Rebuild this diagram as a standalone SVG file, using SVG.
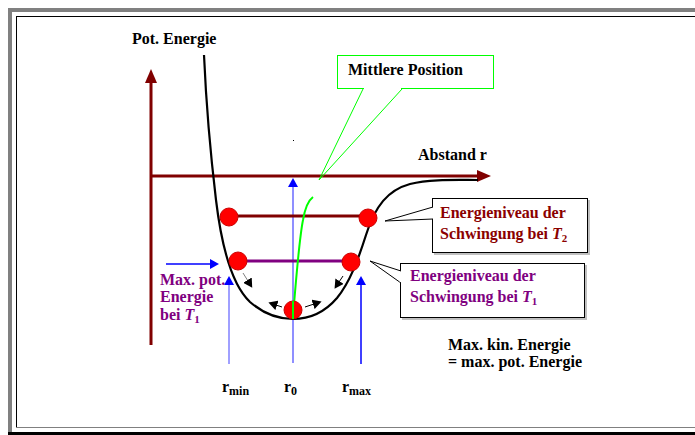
<svg xmlns="http://www.w3.org/2000/svg" width="695" height="435" viewBox="0 0 695 435">
<style>
text{font-family:'Liberation Serif','Times New Roman',serif;font-weight:bold;font-size:16px}
.blk{fill:#000}
.dr{fill:#8b0000}
.pu{fill:#800080}
.ball{fill:#ff0000;stroke:#cc0000;stroke-width:1}
.box{fill:#fff;stroke:#000;stroke-width:1}
.shadow{fill:#c0c0c0}
</style>
<defs>
<marker id="arrDR" markerWidth="14" markerHeight="12" refX="1" refY="6" orient="auto" markerUnits="userSpaceOnUse"><path d="M0,0 L14,6 L0,12 z" fill="#800000"/></marker>
<marker id="arrB" markerWidth="10" markerHeight="10" refX="1" refY="5" orient="auto" markerUnits="userSpaceOnUse"><path d="M0,0 L9,5 L0,10 z" fill="#0000ff"/></marker>
<marker id="arrK" markerWidth="10" markerHeight="10" refX="1" refY="5" orient="auto" markerUnits="userSpaceOnUse"><path d="M0,0 L9,5 L0,10 z" fill="#000"/></marker>
</defs>
<rect width="695" height="435" fill="#fff"/>
<g id="frame">
<rect x="8" y="8" width="687" height="4" fill="#808080"/>
<rect x="8" y="8" width="4" height="426" fill="#808080"/>
<line x1="16" y1="16.5" x2="695" y2="16.5" stroke="#000" stroke-width="1"/>
<line x1="16.5" y1="16" x2="16.5" y2="427" stroke="#000" stroke-width="1"/>
<line x1="16" y1="427.5" x2="695" y2="427.5" stroke="#808080" stroke-width="1"/>
<rect x="8" y="432" width="687" height="3" fill="#000"/>
</g>
<g id="connectors">
<line x1="151" y1="345" x2="151" y2="82" stroke="#800000" stroke-width="3" marker-end="url(#arrDR)"/>
<line x1="151" y1="176" x2="478" y2="176" stroke="#800000" stroke-width="3" marker-end="url(#arrDR)"/>
<line x1="293" y1="363" x2="293" y2="186" stroke="#6a6aff" stroke-width="1.5" marker-end="url(#arrB)"/>
<line x1="229" y1="364" x2="229" y2="284" stroke="#8080ff" stroke-width="1.5" marker-end="url(#arrB)"/>
<line x1="361" y1="364" x2="361" y2="284" stroke="#0000ff" stroke-width="1.5" marker-end="url(#arrB)"/>
<line x1="166" y1="264" x2="211" y2="264" stroke="#0000ff" stroke-width="1.5" marker-end="url(#arrB)"/>
<line x1="243" y1="273" x2="248" y2="281" stroke="#808080" stroke-width="1" marker-end="url(#arrK)"/>
<line x1="343" y1="276" x2="339" y2="282" stroke="#000" stroke-width="1" marker-end="url(#arrK)"/>
<line x1="282" y1="307" x2="276" y2="305" stroke="#000" stroke-width="1" marker-end="url(#arrK)"/>
<line x1="305" y1="307" x2="314" y2="304" stroke="#000" stroke-width="1" marker-end="url(#arrK)"/>
</g>
<g id="curve">
<path d="M204,55 C206,100 210,150 216,200 C222,250 232,285 250,302 C265,315 280,319 293,319 C310,319 325,312 337,298 C350,282 358,260 366,235 C375,206 388,190 410,184 C430,179 455,180 478,180" fill="none" stroke="#000" stroke-width="2.2"/>
</g>
<g id="levels">
<line x1="238" y1="216" x2="360" y2="216" stroke="#800000" stroke-width="3"/>
<line x1="246" y1="261" x2="343" y2="261" stroke="#800080" stroke-width="3"/>
</g>
<g id="mean">
<path d="M293,317 C296,280 299,240 303,220 C305,208 309,200 313,197" fill="none" stroke="#00ff00" stroke-width="2"/>
</g>
<g id="balls">
<circle class="ball" cx="229" cy="217" r="9"/>
<circle class="ball" cx="368" cy="218" r="9"/>
<circle class="ball" cx="238" cy="261" r="9"/>
<circle class="ball" cx="351" cy="262" r="9"/>
<circle class="ball" cx="293" cy="310" r="9"/>
</g>
<line x1="293" y1="301" x2="293" y2="319" stroke="#00ff00" stroke-width="2"/>
<rect x="293" y="140" width="1" height="1" fill="#000"/>
<g id="callout-mittlere">
<rect x="337.5" y="55.5" width="156" height="33" fill="#fff" stroke="#00ff00" stroke-width="1"/>
<polyline points="363,89 319,180 402,89" fill="none" stroke="#00ff00" stroke-width="1"/>
<line x1="364" y1="88.5" x2="401" y2="88.5" stroke="#fff" stroke-width="1.2"/>
<text x="348" y="75" class="blk">Mittlere Position</text>
</g>
<g id="callout-t2">
<rect x="434" y="200" width="156" height="55" class="shadow"/>
<rect x="432.5" y="198.5" width="155" height="54" class="box"/>
<polyline points="433,207 385,221 433,219" fill="#fff" stroke="#000" stroke-width="1"/>
<line x1="432.5" y1="208" x2="432.5" y2="218" stroke="#fff" stroke-width="1.5"/>
<text x="440" y="218" class="dr">Energieniveau der</text>
<text x="440" y="239" class="dr">Schwingung bei <tspan font-style="italic">T</tspan><tspan font-size="11" dy="3">2</tspan></text>
</g>
<g id="callout-t1">
<rect x="402" y="265" width="185" height="55" class="shadow"/>
<rect x="400.5" y="263.5" width="184" height="54" class="box"/>
<polyline points="401,271 370,261 401,283" fill="#fff" stroke="#000" stroke-width="1"/>
<line x1="400.5" y1="272" x2="400.5" y2="282" stroke="#fff" stroke-width="1.5"/>
<text x="410" y="281" class="pu">Energieniveau der</text>
<text x="410" y="302" class="pu">Schwingung bei <tspan font-style="italic">T</tspan><tspan font-size="11" dy="3">1</tspan></text>
</g>
<g id="labels">
<text x="132" y="44" class="blk">Pot.  Energie</text>
<text x="418" y="160" class="blk">Abstand r</text>
<text x="160" y="285" class="pu">Max. pot.</text>
<text x="160" y="302" class="pu">Energie</text>
<text x="160" y="320" class="pu">bei <tspan font-style="italic">T</tspan><tspan font-size="11" dy="3">1</tspan></text>
<text x="448" y="350" class="blk">Max. kin. Energie</text>
<text x="448" y="367" class="blk">= max. pot. Energie</text>
<text x="222" y="392" class="blk" font-size="20">r<tspan font-size="12" dy="3">min</tspan></text>
<text x="284" y="392" class="blk" font-size="20">r<tspan font-size="12" dy="3">0</tspan></text>
<text x="342" y="392" class="blk" font-size="20">r<tspan font-size="12" dy="3">max</tspan></text>
</g>
</svg>
